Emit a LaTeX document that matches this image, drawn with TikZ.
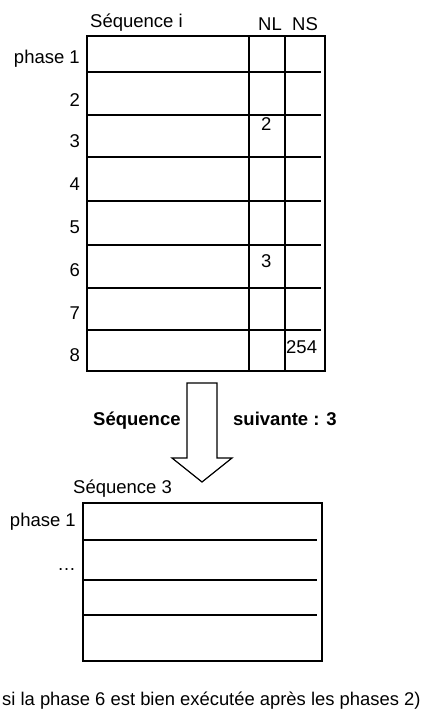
\documentclass[tikz,border=0pt]{standalone}
\usepackage{fontspec}
\setmainfont{Liberation Sans}
\begin{document}
\begin{tikzpicture}[x=1pt,y=-1pt,
  txt/.style={inner sep=0pt,font=\fontsize{18.5}{20}\selectfont},
  lbl/.style={txt,anchor=base east},
  outer/.style={draw=black,line width=1.7pt},
  inner/.style={draw=black,line width=1.2pt}]
\useasboundingbox (0,0) rectangle (426,715);
% top table
\draw[inner] (249,36) -- (249,371);
\draw[inner] (285,36) -- (285,371);
\foreach \y in {72,115,157,201,245,288,330}
  \draw[inner] (87,\y) -- (321,\y);
\draw[outer] (87,36) rectangle (325,371);
\node[txt,anchor=base west] (seqi) at (90,27) {Séquence i};
\node[txt,anchor=base west] (nl) at (258,30) {NL};
\node[txt,anchor=base west] (ns) at (292,30) {NS};
\node[lbl] (p1) at (80,63) {phase 1};
\node[lbl] (p2) at (80,106) {2};
\node[lbl] (p3) at (80,147) {3};
\node[lbl] (p4) at (80,190) {4};
\node[lbl] (p5) at (80,233) {5};
\node[lbl] (p6) at (80,276) {6};
\node[lbl] (p7) at (80,319) {7};
\node[lbl] (p8) at (80,361) {8};
\node[txt,anchor=base west] (v2) at (261,130) {2};
\node[txt,anchor=base west] (v3) at (261,267) {3};
\node[txt,anchor=base west] (v254) at (286,353) {254};
% arrow
\draw[inner,fill=white] (187,383) -- (217,383) -- (217,458) -- (232,458) -- (202,482) -- (172,458) -- (187,458) -- cycle;
\node[txt,anchor=base west,font=\fontsize{18.5}{20}\selectfont\bfseries] (seqb) at (93,425) {Séquence};
\node[txt,anchor=base west,font=\fontsize{18.5}{20}\selectfont\bfseries] (suiv) at (233,425) {suivante : 3};
% bottom table
\node[txt,anchor=base west] (seq3) at (73,493) {Séquence 3};
\foreach \y in {540,580,615}
  \draw[inner] (83,\y) -- (317,\y);
\draw[outer] (83,503) rectangle (322,661);
\node[lbl] (q1) at (76,526) {phase 1};
\node[lbl] (qd) at (76,570) {…};
\node[txt,anchor=base west,font=\fontsize{18.4}{20}\selectfont] (note) at (2,705) {si la phase 6 est bien exécutée après les phases 2)};
\end{tikzpicture}
\end{document}
